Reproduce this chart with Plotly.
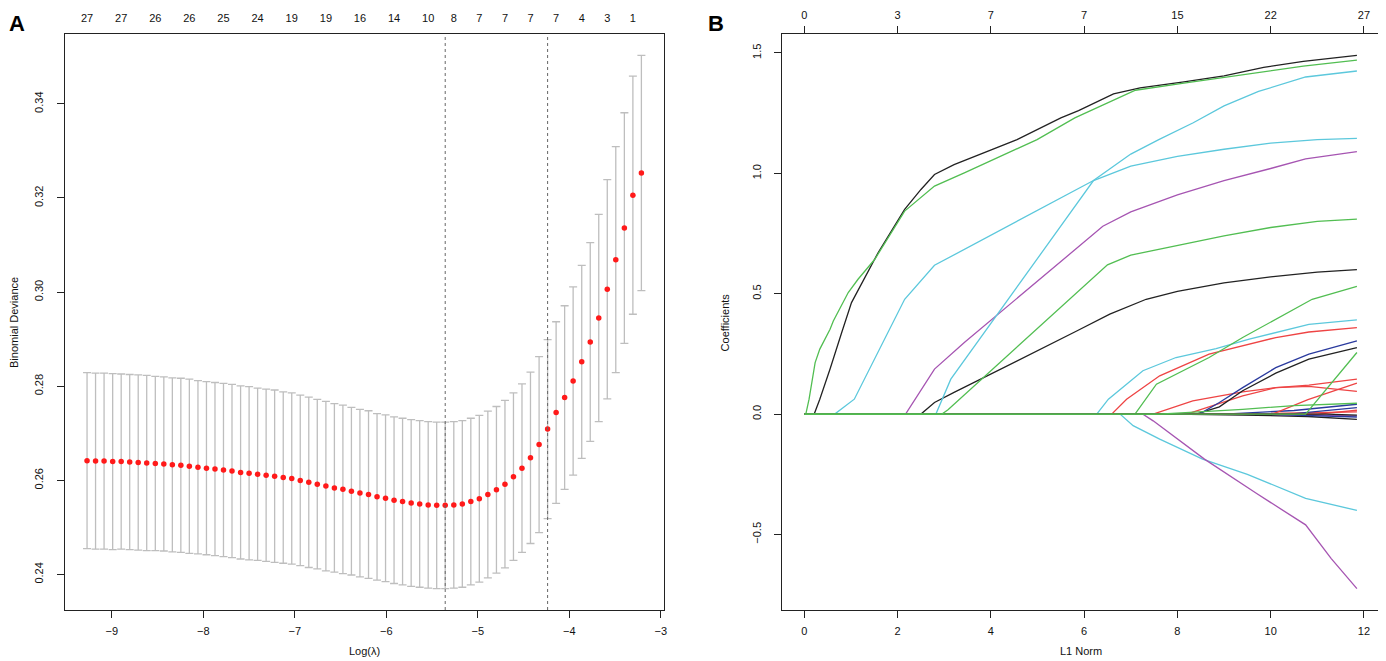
import plotly.graph_objects as go

# ---- panel A: cross-validated binomial deviance ----
log_lambda = [-9.270, -9.177, -9.084, -8.990, -8.897, -8.804, -8.711, -8.618, -8.524, -8.431,
              -8.338, -8.245, -8.152, -8.058, -7.965, -7.872, -7.779, -7.686, -7.592, -7.499,
              -7.406, -7.313, -7.220, -7.126, -7.033, -6.940, -6.847, -6.754, -6.660, -6.567,
              -6.474, -6.381, -6.288, -6.194, -6.101, -6.008, -5.915, -5.822, -5.728, -5.635,
              -5.542, -5.449, -5.356, -5.262, -5.169, -5.076, -4.983, -4.890, -4.796, -4.703,
              -4.610, -4.517, -4.424, -4.330, -4.237, -4.144, -4.051, -3.958, -3.864, -3.771,
              -3.678, -3.585, -3.492, -3.398, -3.305, -3.212]
deviance = [0.2642, 0.2641, 0.2641, 0.2640, 0.2640, 0.2639, 0.2638, 0.2637, 0.2636, 0.2635,
            0.2633, 0.2632, 0.2630, 0.2628, 0.2626, 0.2624, 0.2622, 0.2620, 0.2617, 0.2615,
            0.2613, 0.2611, 0.2609, 0.2606, 0.2604, 0.2600, 0.2596, 0.2592, 0.2588, 0.2584,
            0.2581, 0.2577, 0.2573, 0.2570, 0.2565, 0.2562, 0.2558, 0.2555, 0.2552, 0.2550,
            0.2548, 0.2547, 0.2547, 0.2548, 0.2550, 0.2555, 0.2561, 0.2570, 0.2580, 0.2592,
            0.2608, 0.2626, 0.2648, 0.2676, 0.2709, 0.2744, 0.2776, 0.2811, 0.2852, 0.2894,
            0.2945, 0.3006, 0.3069, 0.3136, 0.3206, 0.3253]
deviance_se = [0.0187, 0.0187, 0.0187, 0.0187, 0.0186, 0.0186, 0.0186, 0.0186, 0.0185, 0.0185,
               0.0185, 0.0185, 0.0185, 0.0184, 0.0184, 0.0184, 0.0184, 0.0184, 0.0184, 0.0184,
               0.0183, 0.0183, 0.0183, 0.0182, 0.0182, 0.0181, 0.0181, 0.0180, 0.0180, 0.0179,
               0.0179, 0.0178, 0.0178, 0.0178, 0.0177, 0.0177, 0.0177, 0.0177, 0.0177, 0.0177,
               0.0177, 0.0177, 0.0177, 0.0177, 0.0177, 0.0177, 0.0177, 0.0177, 0.0177, 0.0178,
               0.0178, 0.0179, 0.0182, 0.0187, 0.0190, 0.0193, 0.0195, 0.0200, 0.0205, 0.0211,
               0.0220, 0.0233, 0.0240, 0.0245, 0.0253, 0.0250]
top_idx = [0, 4, 8, 12, 16, 20, 24, 28, 32, 36, 40, 43, 46, 49, 52, 55, 58, 61, 64]
top_nonzero = [27, 27, 26, 26, 25, 24, 19, 19, 16, 14, 10, 8, 7, 7, 7, 7, 4, 3, 1]
lambda_min_idx = 42
lambda_1se_idx = 54

# ---- panel B: coefficient paths, (L1 norm, coefficient) knots ----
green_1 = [(0, 0), (0.03, 0), (0.10, 0.062), (0.23, 0.214), (0.33, 0.27), (0.55, 0.352), (0.62, 0.387),
           (0.94, 0.505), (1.15, 0.56), (1.51, 0.643), (2.15, 0.843), (2.79, 0.947), (3.43, 1.002),
           (4.99, 1.14), (5.8, 1.23), (6.46, 1.29), (7.1, 1.345), (8.14, 1.375), (9.85, 1.42),
           (10.7, 1.445), (11.85, 1.47)]
black_1 = [(0, 0), (0.21, 0), (0.33, 0.062), (0.55, 0.187), (0.80, 0.339), (1.01, 0.463), (1.58, 0.67),
           (2.15, 0.85), (2.50, 0.933), (2.79, 0.995), (3.21, 1.036), (4.56, 1.14), (5.5, 1.23),
           (5.88, 1.26), (6.63, 1.33), (7.2, 1.355), (8.14, 1.38), (9.0, 1.405), (9.85, 1.44),
           (10.7, 1.465), (11.85, 1.49)]
cyan_1 = [(0, 0), (0.65, 0), (1.07, 0.062), (2.15, 0.477), (2.79, 0.618), (6.2, 0.97), (7.0, 1.03),
          (8.0, 1.07), (9.0, 1.10), (10.0, 1.125), (11.0, 1.14), (11.85, 1.145)]
purple_1 = [(0, 0), (2.17, 0), (2.79, 0.187), (3.43, 0.297), (6.4, 0.78), (7.0, 0.84), (8.0, 0.91),
            (9.0, 0.97), (10.0, 1.02), (10.75, 1.06), (11.85, 1.09)]
black_2 = [(0, 0), (2.50, 0), (2.79, 0.048), (3.21, 0.09), (5.84, 0.345), (6.55, 0.415), (7.33, 0.477),
           (8.0, 0.51), (9.0, 0.545), (10.0, 0.57), (11.0, 0.59), (11.85, 0.60)]
cyan_2 = [(0, 0), (2.82, 0), (3.14, 0.145), (6.2, 0.97), (7.0, 1.08), (7.6, 1.14), (8.34, 1.21),
          (9.0, 1.28), (9.74, 1.34), (10.75, 1.40), (11.85, 1.425)]
green_2 = [(0, 0), (2.95, 0), (3.08, 0.018), (6.5, 0.62), (7.0, 0.66), (8.0, 0.70), (9.0, 0.74),
           (10.0, 0.775), (11.0, 0.80), (11.85, 0.81)]
cyan_3 = [(0, 0), (6.27, 0), (6.52, 0.062), (7.26, 0.18), (7.97, 0.235), (8.83, 0.272), (9.54, 0.311),
          (10.82, 0.373), (11.85, 0.391)]
red_1 = [(0, 0), (6.59, 0), (6.91, 0.062), (7.62, 0.159), (8.68, 0.249), (10.11, 0.318), (10.82, 0.341),
         (11.85, 0.359)]
cyan_4 = [(0, 0), (6.77, 0), (7.05, -0.048), (7.62, -0.104), (8.54, -0.187), (9.5, -0.25),
          (10.75, -0.35), (11.85, -0.40)]
green_3 = [(0, 0), (7.09, 0), (7.55, 0.124), (8.68, 0.235), (9.40, 0.318), (10.25, 0.408),
           (10.89, 0.477), (11.85, 0.53)]
purple_2 = [(0, 0), (7.26, 0), (7.48, -0.028), (8.58, -0.187), (9.7, -0.33), (10.75, -0.46),
            (11.3, -0.60), (11.85, -0.725)]
red_2 = [(0, 0), (7.48, 0), (8.33, 0.055), (9.40, 0.092), (10.11, 0.11), (10.82, 0.12), (11.85, 0.145)]
green_5 = [(0, 0), (7.6, 0), (9.4, 0.02), (10.5, 0.035), (11.85, 0.045)]
black_4 = [(0, 0), (7.9, 0), (9.4, -0.004), (10.8, -0.01), (11.85, -0.022)]
red_3 = [(0, 0), (8.2, 0), (9.40, 0.076), (10.11, 0.11), (10.82, 0.115), (11.85, 0.094)]
black_3 = [(0, 0), (8.4, 0), (8.9, 0.03), (9.40, 0.097), (10.11, 0.17), (10.82, 0.228), (11.85, 0.276)]
blue_1 = [(0, 0), (8.47, 0), (8.90, 0.048), (9.40, 0.11), (10.11, 0.193), (10.82, 0.249), (11.85, 0.304)]
blue_2 = [(0, 0), (9.0, 0), (10.5, 0.015), (11.85, 0.041)]
red_5 = [(0, 0), (9.3, 0), (11.85, 0.009)]
purple_3 = [(0, 0), (9.6, 0), (11.85, -0.007)]
blue_4 = [(0, 0), (9.8, 0), (11.85, -0.012)]
red_4 = [(0, 0), (10.04, 0), (10.8, 0.06), (11.85, 0.129)]
blue_3 = [(0, 0), (10.4, 0), (11.85, 0.027)]
red_6 = [(0, 0), (11.0, 0), (11.85, 0.016)]
black_5 = [(0, 0), (11.2, 0), (11.85, -0.004)]
green_4 = [(0, 0), (10.75, 0), (11.85, 0.256)]

l1_ticks = [0, 2, 4, 6, 8, 10, 12]
l1_nonzero = [0, 3, 7, 7, 15, 22, 27]

BLACK = "#222222"
RED = "#EE4444"
GREEN = "#52BE52"
BLUE = "#2A3A9E"
CYAN = "#5CC8DC"
PURPLE = "#A655B2"

paths = [
    (BLACK, black_1), (GREEN, green_1), (CYAN, cyan_1), (PURPLE, purple_1), (BLACK, black_2),
    (CYAN, cyan_2), (CYAN, cyan_3), (RED, red_1), (CYAN, cyan_4), (GREEN, green_3),
    (PURPLE, purple_2), (RED, red_2), (BLACK, black_4), (RED, red_3), (BLACK, black_3),
    (BLUE, blue_1), (BLUE, blue_2), (RED, red_5), (PURPLE, purple_3), (BLUE, blue_4),
    (RED, red_4), (BLUE, blue_3), (RED, red_6), (BLACK, black_5), (GREEN, green_5),
    (GREEN, green_2), (GREEN, green_4),
]

FONT = "Liberation Sans, Arial, sans-serif"
W, H = 1386, 661
OFF = 8                      # page body margin
FW, FH = W - OFF, H - OFF    # figure size


def fx(px):
    return (px - OFF) / FW


def fy(py):
    return 1 - (py - OFF) / FH


def padded(lo, hi):
    d = (hi - lo) * 0.04
    return [lo - d, hi + d]


fig = go.Figure()

# error bars + red points
fig.add_trace(go.Scatter(
    x=log_lambda, y=deviance, mode="markers",
    marker=dict(color="#FF1A1A", size=5.5),
    error_y=dict(type="data", array=deviance_se, color="#BEBEBE", thickness=1.3, width=4),
    xaxis="x", yaxis="y", showlegend=False, hoverinfo="x+y",
))
# invisible copy so the top (non-zero count) axis gets drawn
fig.add_trace(go.Scatter(
    x=log_lambda, y=deviance, mode="markers", marker=dict(opacity=0),
    xaxis="x3", yaxis="y", showlegend=False, hoverinfo="skip",
))

for color, path in paths:
    fig.add_trace(go.Scatter(
        x=[p[0] for p in path], y=[p[1] for p in path], mode="lines",
        line=dict(color=color, width=1.3), xaxis="x2", yaxis="y2", showlegend=False,
    ))
fig.add_trace(go.Scatter(
    x=[p[0] for p in green_4], y=[p[1] for p in green_4], mode="markers", marker=dict(opacity=0),
    xaxis="x4", yaxis="y2", showlegend=False, hoverinfo="skip",
))

lo = [d - s for d, s in zip(deviance, deviance_se)]
hi = [d + s for d, s in zip(deviance, deviance_se)]
xa_range = padded(min(log_lambda), max(log_lambda))
ya_range = padded(min(lo), max(hi))
all_l1 = [p[0] for _, path in paths for p in path]
all_coef = [p[1] for _, path in paths for p in path]
xb_range = padded(min(all_l1), max(all_l1))
yb_range = padded(min(all_coef), max(all_coef))

dom_a = [fx(65), fx(665)]
dom_b = [fx(784), fx(1382)]
dom_y = [fy(610), fy(34)]

tick_font = dict(family=FONT, size=11, color="#111")
axis_common = dict(showline=True, linecolor="#222", linewidth=1, mirror=True, showgrid=False,
                   zeroline=False, ticks="outside", ticklen=7, tickcolor="#222", tickfont=tick_font)

fig.update_layout(
    width=FW, height=FH, margin=dict(l=0, r=0, t=0, b=0),
    paper_bgcolor="white", plot_bgcolor="white",
    xaxis=dict(domain=dom_a, range=xa_range, anchor="y", tickvals=[-9, -8, -7, -6, -5, -4, -3],
               ticklabelstandoff=4, **axis_common),
    yaxis=dict(domain=dom_y, range=ya_range, anchor="x", tickvals=[0.24, 0.26, 0.28, 0.30, 0.32, 0.34],
               tickformat=".2f", tickangle=-90, ticklabelstandoff=9, **axis_common),
    xaxis3=dict(overlaying="x", side="top", anchor="y", range=xa_range,
                tickvals=[log_lambda[i] for i in top_idx], ticktext=[str(n) for n in top_nonzero],
                ticks="", showline=False, showgrid=False, zeroline=False, ticklabelstandoff=9,
                tickfont=tick_font),
    xaxis2=dict(domain=dom_b, range=xb_range, anchor="y2", tickvals=l1_ticks,
                ticklabelstandoff=4, **axis_common),
    yaxis2=dict(domain=dom_y, range=yb_range, anchor="x2", tickvals=[-0.5, 0.0, 0.5, 1.0, 1.5],
                tickformat=".1f", tickangle=-90, ticklabelstandoff=9, **axis_common),
    xaxis4=dict(overlaying="x2", side="top", anchor="y2", range=xb_range,
                tickvals=l1_ticks, ticktext=[str(n) for n in l1_nonzero],
                ticks="outside", ticklen=7, tickcolor="#222", showline=False, showgrid=False,
                zeroline=False, ticklabelstandoff=3, tickfont=tick_font),
)

for i in (lambda_min_idx, lambda_1se_idx):
    fig.add_shape(type="line", xref="x", yref="y domain", x0=log_lambda[i], x1=log_lambda[i],
                  y0=0, y1=1, line=dict(color="#666666", width=1, dash="dot"))

label_font = dict(family=FONT, size=11, color="#111")
ymid = (dom_y[0] + dom_y[1]) / 2


def note(text, x, y, font, angle=0):
    fig.add_annotation(text=text, xref="paper", yref="paper", x=x, y=y, xanchor="center",
                       yanchor="middle", textangle=angle, showarrow=False, font=font)


note("Binomial Deviance", fx(14), ymid, label_font, -90)
note("Log(λ)", sum(dom_a) / 2, fy(651), label_font)
note("Coefficients", fx(727), ymid, label_font, -90)
note("L1 Norm", sum(dom_b) / 2, fy(651), label_font)

panel_font = dict(family="Liberation Sans Narrow, Liberation Sans, Arial", size=22, color="black")
note("<b>A</b>", fx(17), fy(23), panel_font)
note("<b>B</b>", fx(718), fy(23), panel_font)

fig.write_html("out.html")
